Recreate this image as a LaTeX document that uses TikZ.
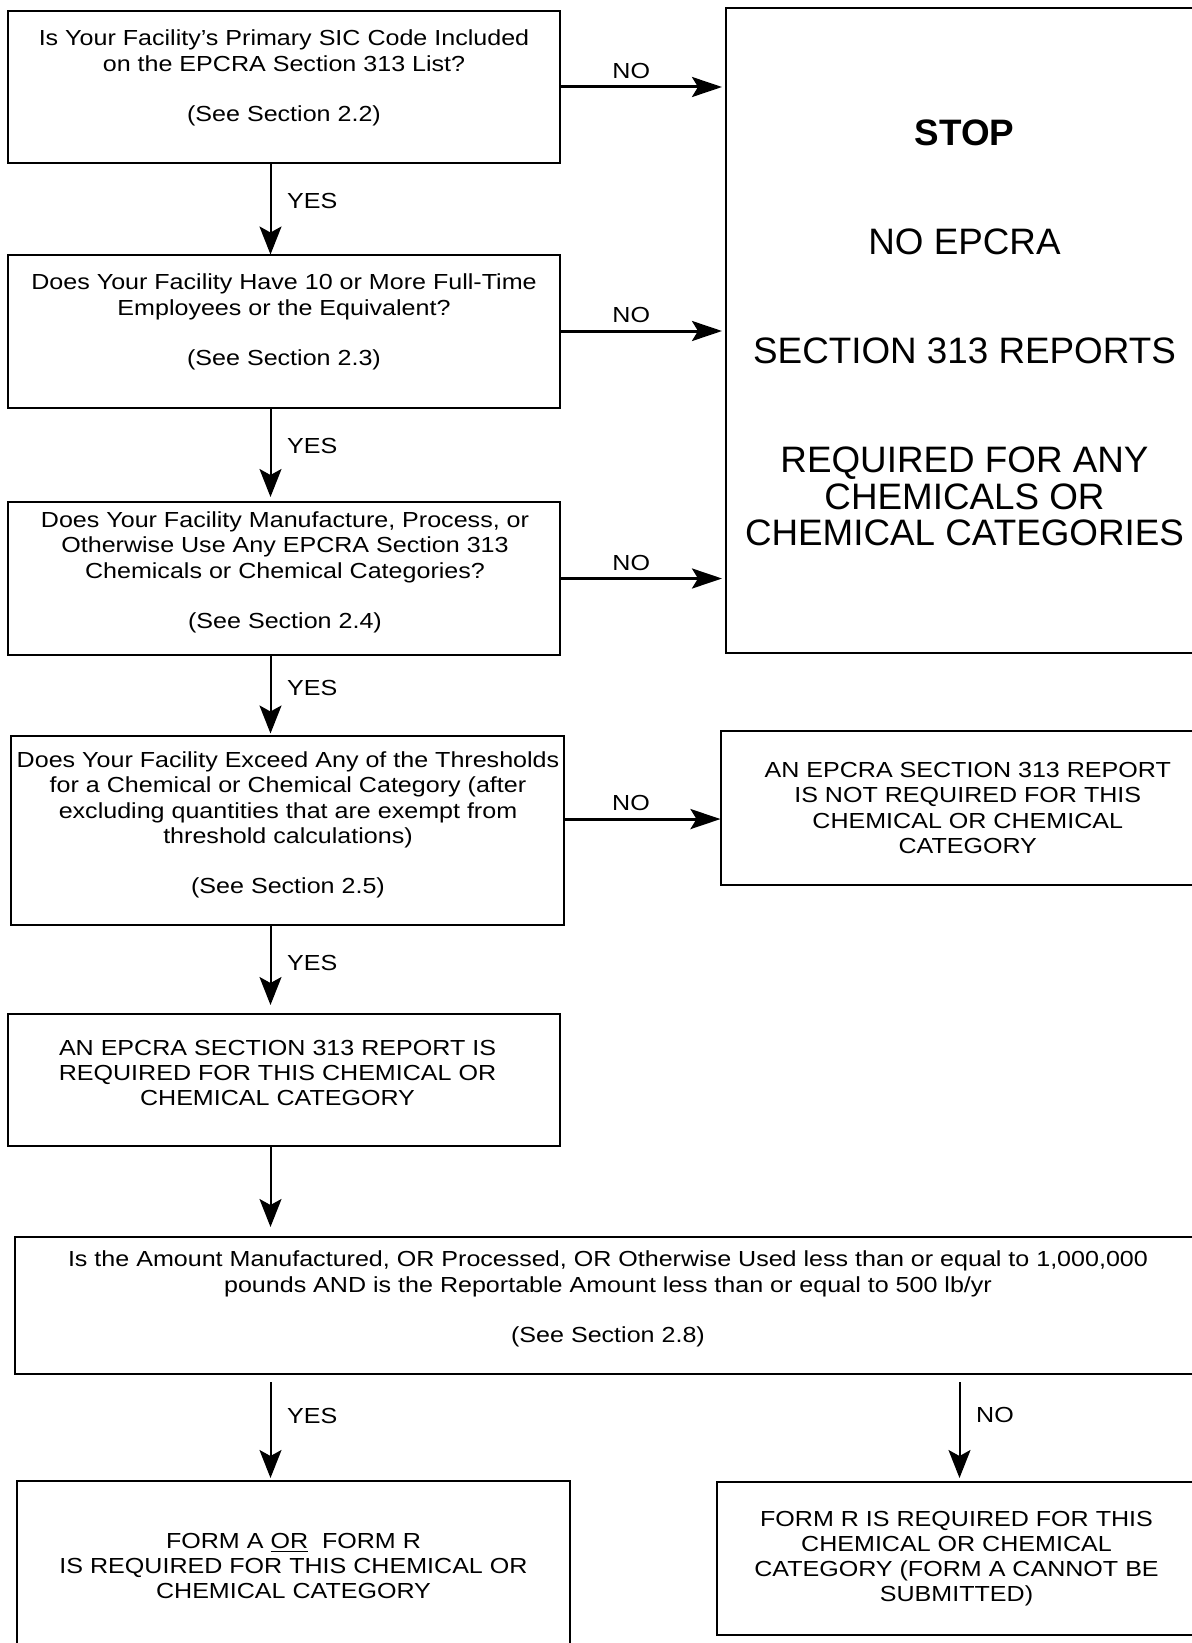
\documentclass[tikz,border=0pt]{standalone}
\usepackage{fontspec}
\setmainfont{Liberation Sans}
\newfontfamily\boxfont{Liberation Sans}[FakeStretch=1.15]
\usetikzlibrary{arrows.meta}
\newcommand{\qsize}{\boxfont\fontsize{10.9pt}{12.6pt}\selectfont}
\newcommand{\stopsize}{\fontsize{18.4pt}{18.3pt}\selectfont}

\begin{document}
\begin{tikzpicture}[x=0.5pt,y=-0.5pt,
    qbox/.style={draw,line width=1pt,inner sep=0pt,outer sep=0pt,align=center,font=\qsize},
    qtext/.style={align=center,font=\qsize,inner sep=0pt},
    down/.style={line width=1pt,-{Stealth[length=14pt,width=11pt,inset=3pt]}},
    over/.style={line width=1.5pt,-{Stealth[length=15pt,width=10pt,inset=3pt]}},
    lab/.style={font=\qsize}]
  \useasboundingbox (0,0) rectangle (1192,1643);
  \clip (0,0) rectangle (1192,1643);

  % left column
  \node[qbox,minimum width=275.75pt,minimum height=76.25pt] (b1) at (284,87) {};
  \node[qbox,minimum width=275.75pt,minimum height=76.5pt] (b2) at (284,331) {};
  \node[qbox,minimum width=275.75pt,minimum height=76.5pt] (b3) at (284,578.5) {};
  \node[qbox,minimum width=276.5pt,minimum height=94.75pt] (b4) at (287,830.25) {};
  \node[qbox,minimum width=275.75pt,minimum height=65.75pt] (b5) at (284,1079.75) {};
  \node[qbox,minimum width=592.75pt,minimum height=68.5pt] (b6) at (607.25,1305.5) {};

  \node[qtext] (t1) at (284,78) {Is Your Facility’s Primary SIC Code Included\\on the EPCRA Section 313 List?\\[12.6pt](See Section 2.2)};
  \node[qtext] (t2) at (284,322) {Does Your Facility Have 10 or More Full-Time\\Employees or the Equivalent?\\[12.6pt](See Section 2.3)};
  \node[qtext] (t3) at (285,572.5) {Does Your Facility Manufacture, Process, or\\Otherwise Use Any EPCRA Section 313\\Chemicals or Chemical Categories?\\[12.6pt](See Section 2.4)};
  \node[qtext] (t4) at (288,825) {Does Your Facility Exceed Any of the Thresholds\\for a Chemical or Chemical Category (after\\excluding quantities that are exempt from\\threshold calculations)\\[12.6pt](See Section 2.5)};
  \node[qtext] (t5) at (277.5,1073) {AN EPCRA SECTION 313 REPORT IS\\REQUIRED FOR THIS CHEMICAL OR\\CHEMICAL CATEGORY};
  \node[qtext] (t6) at (608,1299) {Is the Amount Manufactured, OR Processed, OR Otherwise Used less than or equal to 1,000,000\\pounds AND is the Reportable Amount less than or equal to 500 lb/yr\\[12.6pt](See Section 2.8)};

  % right column
  \node[qbox,minimum width=238.5pt,minimum height=322pt] (stop) at (964.5,330.5) {};
  \node[qtext,font=\stopsize] (stopt) at (964.5,333)
    {\textbf{STOP}\\[36.2pt]NO EPCRA\\[36.2pt]SECTION 313 REPORTS\\[36.2pt]REQUIRED FOR ANY\\CHEMICALS OR\\CHEMICAL CATEGORIES};
  \node[qbox,minimum width=247.25pt,minimum height=77pt] (note) at (967.75,808)
    {AN EPCRA SECTION 313 REPORT\\IS NOT REQUIRED FOR THIS\\CHEMICAL OR CHEMICAL\\CATEGORY};

  % bottom row
  \node[qbox,minimum width=276.5pt,minimum height=85pt] (formar) at (293.5,1566)
    {FORM A \underline{OR}\ \ FORM R\\IS REQUIRED FOR THIS CHEMICAL OR\\CHEMICAL CATEGORY};
  \node[qbox,minimum width=239.5pt,minimum height=76.5pt] (formr) at (956.5,1558.5)
    {FORM R IS REQUIRED FOR THIS\\CHEMICAL OR CHEMICAL\\CATEGORY (FORM A CANNOT BE\\SUBMITTED)};

  \coordinate (ax) at (270.5,0);
  \coordinate (bx) at (959.5,0);

  % yes path
  \draw[down] (b1.south -| ax) -- (b2.north -| ax) node[lab,pos=0.41,right=4.5pt] {YES};
  \draw[down,shorten >=2.5pt] (b2.south -| ax) -- (b3.north -| ax) node[lab,pos=0.41,right=4.5pt] {YES};
  \draw[down,shorten >=1pt] (b3.south -| ax) -- (b4.north -| ax) node[lab,pos=0.41,right=4.5pt] {YES};
  \draw[down,shorten >=4.5pt] (b4.south -| ax) -- (b5.north -| ax) node[lab,pos=0.43,right=4.5pt] {YES};
  \draw[down,shorten >=5pt] (b5.south -| ax) -- (b6.north -| ax);
  \draw[down,shorten <=4pt,shorten >=1.5pt] (b6.south -| ax) -- (formar.north -| ax) node[lab,pos=0.39,right=4.5pt] {YES};
  \draw[down,shorten <=4pt,shorten >=2pt] (b6.south -| bx) -- (formr.north -| bx) node[lab,pos=0.38,right=4.5pt] {NO};

  % no path
  \draw[over,shorten >=2pt] (b1.east) -- (b1.east -| stop.west) node[lab,pos=0.43,above] {NO};
  \draw[over,shorten >=2pt] (b2.east) -- (b2.east -| stop.west) node[lab,pos=0.43,above] {NO};
  \draw[over,shorten >=2pt] (b3.east) -- (b3.east -| stop.west) node[lab,pos=0.43,above] {NO};
  \draw[over] ([yshift=5.6pt]b4.east) -- ([yshift=5.6pt]b4.east -| note.west) node[lab,pos=0.43,above] {NO};
\end{tikzpicture}
\end{document}
